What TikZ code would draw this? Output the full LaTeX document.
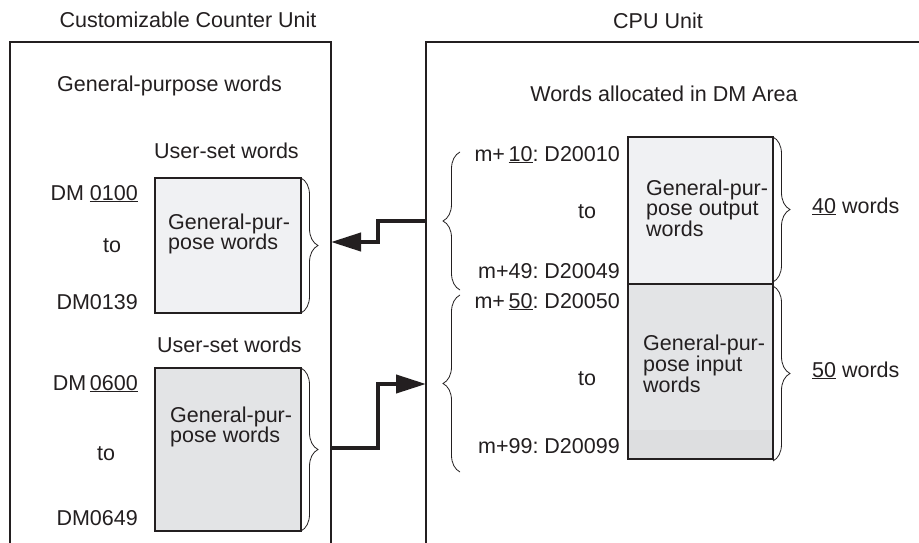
\documentclass[tikz,border=0pt]{standalone}
\usepackage{fontspec}
\setmainfont{Liberation Sans}
\usetikzlibrary{arrows.meta,decorations.pathreplacing}
\newcommand\txtsz{\fontsize{21.5pt}{22pt}\selectfont}
\definecolor{boxlight}{HTML}{F0F1F3}
\definecolor{boxdark}{HTML}{E3E4E6}
\definecolor{boxband}{HTML}{DDDEE0}
\definecolor{ink}{HTML}{231F20}
\tikzset{
  unitbox/.style={draw=ink, line width=1.6pt, inner sep=0pt, outer sep=0pt, anchor=north west},
  wordbox/.style={draw=ink, line width=1.6pt, inner sep=0pt, outer sep=0pt, anchor=north west},
  lbl/.style={font=\txtsz, text=ink, inner sep=0pt, anchor=base west},
  rlbl/.style={font=\txtsz, text=ink, inner sep=0pt, anchor=base east},
  clbl/.style={font=\txtsz, text=ink, inner sep=0pt, anchor=base},
  bracedraw/.style={draw=ink, line width=0.8pt, decorate, decoration={brace, amplitude=17pt}},
  flow/.style={draw=ink, line width=4pt, line join=miter, -{Triangle[length=30pt,width=18pt]}}
}
\begin{document}
\begin{tikzpicture}[x=1pt,y=-1pt]
\path[use as bounding box] (0,0) rectangle (919,543);
\clip (0,0) rectangle (919,543);
\fill[white] (0,0) rectangle (919,543);

% unit frames (cut off by the picture edge)
\node[unitbox, minimum width=321pt, minimum height=560pt] (ccu) at (10,42) {};
\node[unitbox, minimum width=560pt, minimum height=560pt] (cpu) at (426,42) {};
\node[clbl] (ccutitle) at (188,28) {Customizable Counter Unit};
\node[clbl] (cputitle) at (658,29) {CPU Unit};

% left unit contents
\node[lbl] (gpw) at (57,92) {General-purpose words};
\node[lbl] (us1) at (154,158) {User-set words};
\node[wordbox, fill=boxlight, minimum width=146pt, minimum height=135pt] (b1) at (155,178) {};
\draw[ink, line width=2.6pt] (b1.north east) -- (b1.south east);
\node[lbl] (b1a) at (168,229) {General-pur-};
\node[lbl] (b1b) at (168,249) {pose words};
\node[rlbl] (dm100) at (138,200) {DM \underline{0100}};
\node[clbl] (to1) at (112,252) {to};
\node[rlbl] (dm139) at (138,309) {DM0139};

\node[lbl] (us2) at (157,352) {User-set words};
\node[wordbox, fill=boxdark, minimum width=146pt, minimum height=163pt] (b2) at (155,368) {};
\draw[ink, line width=2.6pt] (b2.north east) -- (b2.south east);
\node[lbl] (b2a) at (170,422) {General-pur-};
\node[lbl] (b2b) at (170,442) {pose words};
\node[rlbl] (dm600) at (138,390) {DM\,\underline{0600}};
\node[clbl] (to2) at (106,460) {to};
\node[rlbl] (dm649) at (138,525) {DM0649};

\draw[bracedraw] (b1.north east) -- (b1.south east);
\draw[bracedraw] (b2.north east) -- (b2.south east);

% CPU unit contents
\node[clbl] (dmarea) at (664,102) {Words allocated in DM Area};
\node[wordbox, fill=boxlight, minimum width=145pt, minimum height=147pt] (outb) at (628,137) {};
\node[wordbox, fill=boxdark, minimum width=145pt, minimum height=175pt] (inb) at (628,284) {};
\fill[boxband] ([xshift=0.8pt,yshift=0.8pt]inb.south west) rectangle ([xshift=-1.3pt]inb.east |- 0,430);
\draw[ink, line width=1.6pt] (inb.north west) rectangle (inb.south east);
\draw[ink, line width=2.6pt] (outb.north east) -- (inb.south east);
\draw[ink, line width=1.6pt] (outb.north west) -- (outb.north east);

\node[lbl] (oa) at (646,195) {General-pur-};
\node[lbl] (ob) at (646,215) {pose output};
\node[lbl] (oc) at (646,236) {words};
\node[lbl] (ia) at (643,350) {General-pur-};
\node[lbl] (ib) at (643,371) {pose input};
\node[lbl] (ic) at (643,392) {words};

\node[rlbl] (m10) at (620,161) {m+\,\underline{10}:~D20010};
\node[clbl] (to3) at (587,218) {to};
\node[rlbl] (m49) at (620,278) {m+49:~D20049};
\node[rlbl] (m50) at (620,308) {m+\,\underline{50}:~D20050};
\node[clbl] (to4) at (587,385) {to};
\node[rlbl] (m99) at (620,453) {m+99:~D20099};

\coordinate (brA1) at (460,152);
\coordinate (brA2) at (460,290);
\coordinate (brB1) at (460,295);
\coordinate (brB2) at (460,472);
\draw[bracedraw] (brA2) -- (brA1);
\draw[bracedraw] (brB2) -- (brB1);

\coordinate (brC1) at (773,137);
\coordinate (brC2) at (773,282);
\coordinate (brD1) at (773,286);
\coordinate (brD2) at (773,461);
\draw[bracedraw] (brC1) -- (brC2);
\draw[bracedraw] (brD1) -- (brD2);

\node[lbl] (w40) at (812,213) {\underline{40} words};
\node[lbl] (w50) at (812,377) {\underline{50} words};

% connectors
\draw[flow] (cpu.west |- 0,221) -- (378,221) -- (378,242) -- (ccu.east |- 0,242);
\draw[flow] (ccu.east |- 0,448) -- (378,448) -- (378,384) -- (cpu.west |- 0,384);
\end{tikzpicture}
\end{document}
